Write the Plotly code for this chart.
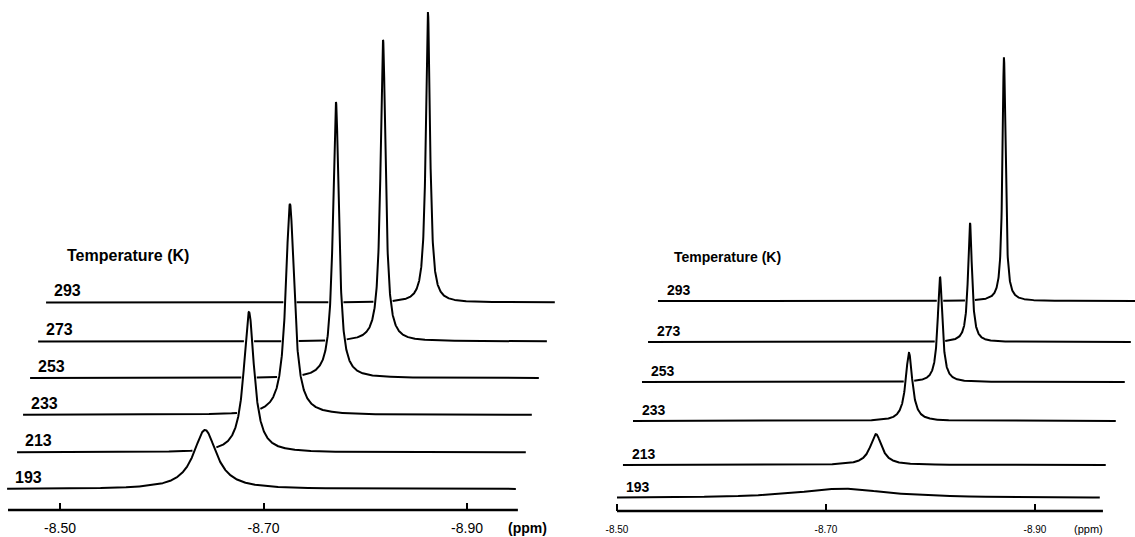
import numpy as np
import plotly.graph_objects as go

# ---------------- data ----------------
temps = ["193", "213", "233", "253", "273", "293"]

# left panel: Lorentzian line parameters (ppm, a.u.)
L_peak_ppm = [-8.6425, -8.6759, -8.7103, -8.7486, -8.7870, -8.8233]
L_height = [19.7, 46.8, 70.3, 92.0, 100.5, 96.8]
L_fwhm = [0.0275, 0.0123, 0.0100, 0.0069, 0.0059, 0.0049]
L_offset_y = [7.0, 19.2, 31.7, 44.0, 56.2, 69.2]        # stacking offset (a.u.)
L_shift_ppm = [0.0, 0.0098, 0.0157, 0.0226, 0.0305, 0.0383]  # stacking skew (ppm)
L_window = [-8.448, -8.948]
L_axis = [-8.4489, -8.950]

# right panel
R_peak_ppm = [-8.7153, -8.7421, -8.7641, -8.7852, -8.8081, -8.8311]
R_height = [3.1, 10.3, 22.7, 35.0, 39.7, 81.3]
R_fwhm = [0.105, 0.0134, 0.0077, 0.0053, 0.0045, 0.0034]
R_offset_y = [4.33, 15.33, 30.0, 43.0, 56.33, 70.0]
R_shift_ppm = [0.0, 0.0057, 0.0153, 0.0239, 0.0297, 0.0392]
R_window = [-8.50, -8.962]
R_axis = [-8.50, -8.965]

tick_vals = [-8.50, -8.70, -8.90]
tick_text = ["-8.50", "-8.70", "-8.90"]

FONT = "Arial, Liberation Sans, sans-serif"
fig = go.Figure()
NPTS = 3000


def add_panel(xa, ya, peaks, heights, fwhms, offs, shifts, window, axis_span,
              lab_font, lab_dx, title_dx, title_dy):
    n = len(peaks)
    ppm = np.linspace(window[0], window[1], NPTS)
    curves = []
    for i in range(n):
        g = fwhms[i] / 2.0
        yv = heights[i] * g * g / ((ppm - peaks[i]) ** 2 + g * g)
        curves.append((ppm - shifts[i], yv + offs[i]))
    step = abs(ppm[1] - ppm[0])
    dil = max(1, int(round(0.0016 / step)))
    kernel = np.ones(2 * dil + 1)
    for i in reversed(range(n)):
        xs, ys = curves[i]
        hidden = np.zeros(NPTS, dtype=bool)
        # hidden-line removal: parts of a rear trace lying behind front traces
        for j in range(i):
            xf, yf = curves[j]
            inside = (xs <= xf[0]) & (xs >= xf[-1])
            front_y = np.interp(xs[::-1], xf[::-1], yf[::-1])[::-1]
            hidden |= inside & (front_y > ys - 0.4)
        hidden = np.convolve(hidden.astype(float), kernel, mode="same") > 0
        yplot = np.where(hidden, np.nan, ys)
        fig.add_trace(go.Scatter(
            x=xs, y=yplot, mode="lines", line=dict(color="black", width=2),
            name=temps[i] + " K", showlegend=False, connectgaps=False,
            xaxis=xa, yaxis=ya))
        fig.add_annotation(
            x=window[0] - shifts[i] - lab_dx, y=offs[i], xref=xa, yref=ya,
            text="<b>%s</b>" % temps[i], showarrow=False, xanchor="left",
            yanchor="bottom", yshift=1, font=dict(family=FONT, size=lab_font, color="black"))
    fig.add_annotation(
        x=window[0] - shifts[-1] - title_dx, y=offs[-1] + title_dy, xref=xa, yref=ya,
        text="<b>Temperature (K)</b>", showarrow=False, xanchor="left",
        yanchor="middle", font=dict(family=FONT, size=lab_font, color="black"))
    # axis base line
    fig.add_trace(go.Scatter(
        x=axis_span, y=[0, 0], mode="lines", line=dict(color="black", width=2.5),
        hoverinfo="skip", showlegend=False, xaxis=xa, yaxis=ya))


add_panel("x", "y", L_peak_ppm, L_height, L_fwhm, L_offset_y, L_shift_ppm,
          L_window, L_axis, 16, 0.006, 0.019, 15.8)
add_panel("x2", "y2", R_peak_ppm, R_height, R_fwhm, R_offset_y, R_shift_ppm,
          R_window, R_axis, 14, 0.0067, 0.0134, 14.7)

W, H = 1135, 537
common_x = dict(showgrid=False, zeroline=False, showline=False,
                tickmode="array", tickvals=tick_vals, ticktext=tick_text,
                ticks="inside", ticklen=7, tickwidth=2, tickcolor="black",
                anchor="free", tickprefix="<b>", ticksuffix="</b>")
fig.update_layout(
    width=W, height=H, margin=dict(l=0, r=0, t=0, b=0),
    paper_bgcolor="white", plot_bgcolor="white", showlegend=False,
    xaxis=dict(domain=[0, 0.5], range=[-8.44103, -8.99877], position=27 / H,
               tickfont=dict(family=FONT, size=14, color="black"),
               ticklabelstandoff=8, **common_x),
    xaxis2=dict(domain=[0.5, 1], range=[-8.45263, -8.99569], position=26 / H,
                tickfont=dict(family=FONT, size=10, color="black"),
                ticklabelstandoff=11, **common_x),
    yaxis=dict(domain=[0, 1], range=[-9, 170], visible=False),
    yaxis2=dict(domain=[0, 1], range=[-8.667, 170.333], visible=False, anchor="x2"),
)
fig.add_annotation(x=-8.959, y=9 / H, xref="x", yref="paper", text="<b>(ppm)</b>",
                   showarrow=False, xanchor="center", yanchor="middle",
                   font=dict(family=FONT, size=14, color="black"))
fig.add_annotation(x=-8.951, y=8 / H, xref="x2", yref="paper", text="(ppm)",
                   showarrow=False, xanchor="center", yanchor="middle",
                   font=dict(family=FONT, size=11, color="black"))

fig.write_html("out.html")
